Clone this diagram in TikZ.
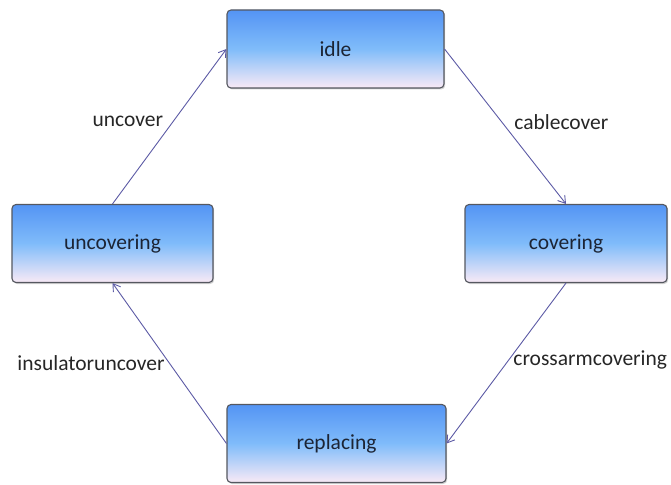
\documentclass[tikz,border=0pt]{standalone}
\usepackage{fontspec}
\setmainfont{Carlito}
\usetikzlibrary{arrows.meta,shadows}
\definecolor{boxtop}{RGB}{84,148,244}
\definecolor{boxmid}{RGB}{128,188,250}
\definecolor{boxbot}{RGB}{249,234,246}
\definecolor{boxline}{RGB}{85,88,96}
\definecolor{boxtext}{RGB}{28,36,52}
\definecolor{arrowline}{RGB}{92,90,165}
\tikzset{
  statebox/.style={draw=boxline, line width=1.1pt, rectangle, rounded corners=4pt,
    minimum height=78pt, top color=boxtop, bottom color=boxbot, middle color=boxmid,
    text=boxtext, font=\fontsize{21.5}{26}\selectfont,
    drop shadow={shadow xshift=1.2pt, shadow yshift=-1.5pt, opacity=.35}},
  trans/.style={draw=arrowline, line width=.9pt, -{Straight Barb[length=7pt,width=9pt]}},
  translabel/.style={text=black!85, font=\fontsize{21.5}{26}\selectfont}
}
\begin{document}
\begin{tikzpicture}[x=1pt,y=-1pt]
  \useasboundingbox (0,0) rectangle (671,484);
  \draw node[statebox, minimum width=217pt] (idle) at (335.5,49) {idle};
  \draw node[statebox, minimum width=202pt] (covering) at (566,243.5) {covering};
  \draw node[statebox, minimum width=201pt] (uncovering) at (112.5,243.5) {uncovering\hspace{18pt}};
  \draw node[statebox, minimum width=219pt] (replacing) at (336.5,443.5) {replacing};

  \draw (uncovering.north) edge[trans] node[translabel, pos=.53, left=6pt] {uncover} (idle.west);
  \draw (idle.east) edge[trans] node[translabel, pos=.47, right=9pt] {cablecover} (covering.north);
  \draw (covering.south) edge[trans] node[translabel, pos=.48, right=1pt] {crossarmcovering} (replacing.east);
  \draw (replacing.west) edge[trans] node[translabel, pos=.5, left=1pt] {insulatoruncover} (uncovering.south);
\end{tikzpicture}
\end{document}
